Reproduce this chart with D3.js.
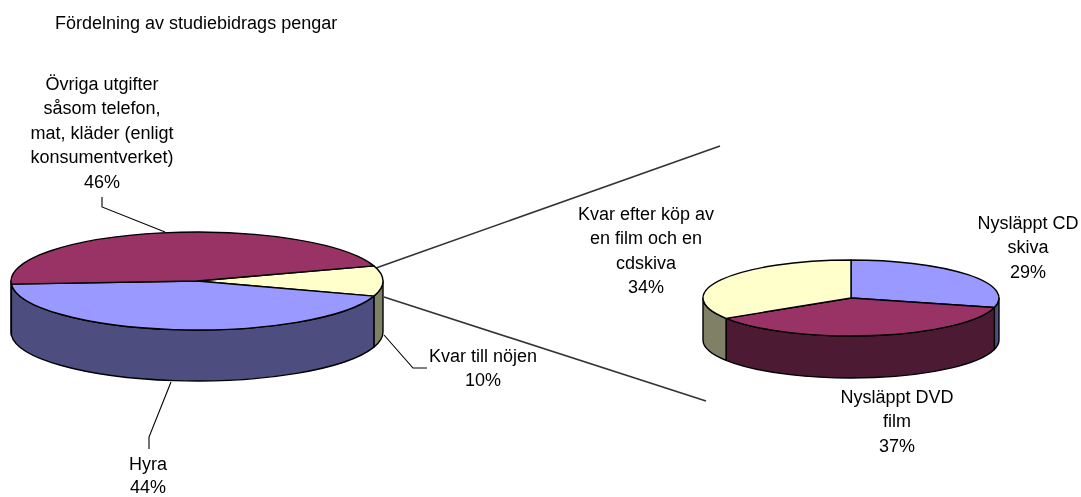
<!DOCTYPE html>
<html><head><meta charset="utf-8">
<script src="https://cdn.jsdelivr.net/npm/d3@7"></script>
<style>
html,body{margin:0;padding:0;background:#fff;overflow:hidden}
svg{display:block;filter:blur(0.35px)}
text{font-family:"Liberation Sans",Arial,sans-serif;fill:#000;font-size:18px}
</style></head><body>
<svg id="chart" width="1081" height="497"></svg>
<script>
const mainCategories = ["Kvar till nöjen", "Hyra", "Övriga utgifter"];
const mainValues = [10, 44, 46];
const mainColors = ["#FFFFCC", "#9999FF", "#993366"];
const mainSides = ["#808066", "#4D4D80", "#4D1A33"];
const subCategories = ["Nysläppt CD skiva", "Nysläppt DVD film", "Kvar efter köp"];
const subValues = [29, 37, 34];
const subColors = ["#9999FF", "#993366", "#FFFFCC"];
const subSides = ["#4D4D80", "#4D1A33", "#808066"];
const titleText = "Fördelning av studiebidrags pengar";

const svg = d3.select("#chart");
const rad = d => d * Math.PI / 180;

function drawPie(cfg) {
  const g = svg.append("g");
  const sx = d3.scaleLinear().domain([-1, 1]).range([cfg.cx - cfg.rx, cfg.cx + cfg.rx]);
  const sy = d3.scaleLinear().domain([-1, 1]).range([cfg.cy + cfg.ry, cfg.cy - cfg.ry]);
  const pt = (a, dy = 0) => [sx(Math.sin(a)), sy(Math.cos(a)) + dy];
  const seg = (a0, a1, dy) => {
    const p = pt(a1, dy);
    const large = Math.abs(a1 - a0) > Math.PI ? 1 : 0;
    const sweep = a1 > a0 ? 1 : 0;
    return `A${cfg.rx},${cfg.ry} 0 ${large} ${sweep} ${p[0]},${p[1]}`;
  };
  const arcs = d3.pie().sort(null).startAngle(cfg.start).endAngle(cfg.start + 2 * Math.PI)(cfg.values);
  const walls = [];
  arcs.forEach(d => {
    [0, 2 * Math.PI].forEach(shift => {
      const a0 = Math.max(d.startAngle, Math.PI / 2 + shift);
      const a1 = Math.min(d.endAngle, 3 * Math.PI / 2 + shift);
      if (a1 > a0) walls.push({ a0, a1, i: d.index });
    });
  });
  g.selectAll("path.wall").data(walls).join("path").attr("class", "wall")
    .attr("fill", d => cfg.sides[d.i]).attr("stroke", "#000").attr("stroke-width", 1.4).attr("stroke-linejoin", "round")
    .attr("d", d => {
      const s = pt(d.a0), e = pt(d.a1, cfg.depth);
      return `M${s[0]},${s[1]}${seg(d.a0, d.a1, 0)}L${e[0]},${e[1]}${seg(d.a1, d.a0, cfg.depth)}Z`;
    });
  g.selectAll("path.face").data(arcs).join("path").attr("class", "face")
    .attr("fill", d => cfg.colors[d.index]).attr("stroke", "#000").attr("stroke-width", 1.4).attr("stroke-linejoin", "round")
    .attr("d", d => {
      const s = pt(d.startAngle);
      return `M${sx(0)},${sy(0)}L${s[0]},${s[1]}${seg(d.startAngle, d.endAngle, 0)}Z`;
    });
}

const connectors = [[[376, 268], [720, 146]], [[384, 297], [706, 401]]];
svg.selectAll("line.conn").data(connectors).join("line").attr("class", "conn")
  .attr("x1", d => d[0][0]).attr("y1", d => d[0][1]).attr("x2", d => d[1][0]).attr("y2", d => d[1][1])
  .attr("stroke", "#333").attr("stroke-width", 1.6);

drawPie({ cx: 197, cy: 281, rx: 186, ry: 49, depth: 51, start: rad(72),
  values: mainValues, colors: mainColors, sides: mainSides });
drawPie({ cx: 851, cy: 298, rx: 148, ry: 38, depth: 42, start: 0,
  values: subValues, colors: subColors, sides: subSides });

const leaders = [
  [[102, 197], [102, 207], [165, 232]],
  [[171, 382], [149, 437], [149, 449]],
  [[384, 335], [413, 368], [427, 368]]
];
svg.selectAll("path.leader").data(leaders).join("path").attr("class", "leader")
  .attr("fill", "none").attr("stroke", "#000").attr("stroke-width", 1.1)
  .attr("d", d3.line());

const labels = [
  { x: 55, y: 29, anchor: "start", step: 0, lines: [titleText] },
  { x: 102, y: 90, anchor: "middle", step: 24.4, lines: ["Övriga utgifter", "såsom telefon,", "mat, kläder (enligt", "konsumentverket)", "46%"] },
  { x: 148, y: 470, anchor: "middle", step: 22.5, lines: ["Hyra", "44%"] },
  { x: 483, y: 362, anchor: "middle", step: 24.4, lines: ["Kvar till nöjen", "10%"] },
  { x: 646, y: 220, anchor: "middle", step: 24.4, lines: ["Kvar efter köp av", "en film och en", "cdskiva", "34%"] },
  { x: 1028, y: 229, anchor: "middle", step: 24.4, lines: ["Nysläppt CD", "skiva", "29%"] },
  { x: 897, y: 403, anchor: "middle", step: 24.4, lines: ["Nysläppt DVD", "film", "37%"] }
];
const txt = svg.selectAll("text.lab").data(labels).join("text").attr("class", "lab")
  .attr("x", d => d.x).attr("y", d => d.y).attr("text-anchor", d => d.anchor);
txt.selectAll("tspan").data(d => d.lines.map(l => ({ l, x: d.x, step: d.step }))).join("tspan")
  .attr("x", d => d.x).attr("dy", (d, i) => i ? d.step : 0).text(d => d.l);
</script>
</body></html>
